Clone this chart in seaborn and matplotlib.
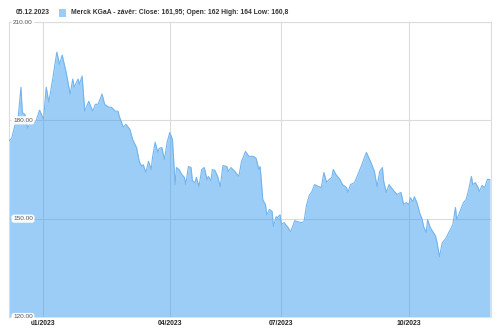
import matplotlib
matplotlib.use("Agg")
import matplotlib.pyplot as plt
import matplotlib.dates as mdates
import matplotlib.transforms as mtransforms
from matplotlib.patches import Rectangle
import seaborn as sns
import pandas as pd

# ---- data ----
dates = [
    "2022-12-08", "2022-12-10", "2022-12-13", "2022-12-15", "2022-12-17", "2022-12-18",
    "2022-12-20", "2022-12-22", "2022-12-24", "2022-12-28", "2022-12-31", "2023-01-03",
    "2023-01-05", "2023-01-07", "2023-01-10", "2023-01-13", "2023-01-15", "2023-01-17",
    "2023-01-20", "2023-01-23", "2023-01-25", "2023-01-26", "2023-01-29", "2023-01-30",
    "2023-02-01", "2023-02-03", "2023-02-06", "2023-02-09", "2023-02-11", "2023-02-13",
    "2023-02-16", "2023-02-18", "2023-02-21", "2023-02-23", "2023-02-26", "2023-02-28",
    "2023-03-01", "2023-03-04", "2023-03-06", "2023-03-09", "2023-03-11", "2023-03-14",
    "2023-03-16", "2023-03-18", "2023-03-19", "2023-03-21", "2023-03-23", "2023-03-25",
    "2023-03-26", "2023-03-28", "2023-03-30", "2023-03-31", "2023-04-02", "2023-04-04",
    "2023-04-06", "2023-04-08", "2023-04-10", "2023-04-12", "2023-04-13", "2023-04-15",
    "2023-04-17", "2023-04-19", "2023-04-20", "2023-04-22", "2023-04-24", "2023-04-25",
    "2023-04-27", "2023-04-28", "2023-04-30", "2023-05-02", "2023-05-04", "2023-05-06",
    "2023-05-07", "2023-05-09", "2023-05-10", "2023-05-12", "2023-05-14", "2023-05-16",
    "2023-05-18", "2023-05-21", "2023-05-22", "2023-05-24", "2023-05-27", "2023-05-30",
    "2023-06-01", "2023-06-04", "2023-06-06", "2023-06-07", "2023-06-10", "2023-06-12",
    "2023-06-14", "2023-06-15", "2023-06-17", "2023-06-19", "2023-06-20", "2023-06-22",
    "2023-06-24", "2023-06-25", "2023-06-27", "2023-06-28", "2023-06-30", "2023-07-01",
    "2023-07-03", "2023-07-06", "2023-07-08", "2023-07-10", "2023-07-11", "2023-07-13",
    "2023-07-16", "2023-07-18", "2023-07-20", "2023-07-22", "2023-07-24", "2023-07-26",
    "2023-07-29", "2023-07-31", "2023-08-02", "2023-08-04", "2023-08-06", "2023-08-08",
    "2023-08-09", "2023-08-11", "2023-08-14", "2023-08-16", "2023-08-19", "2023-08-20",
    "2023-08-22", "2023-08-25", "2023-08-27", "2023-08-30", "2023-09-01", "2023-09-03",
    "2023-09-05", "2023-09-07", "2023-09-09", "2023-09-11", "2023-09-13", "2023-09-15",
    "2023-09-16", "2023-09-18", "2023-09-20", "2023-09-21", "2023-09-24", "2023-09-26",
    "2023-09-29", "2023-10-01", "2023-10-03", "2023-10-05", "2023-10-06", "2023-10-08",
    "2023-10-09", "2023-10-11", "2023-10-13", "2023-10-15", "2023-10-16", "2023-10-18",
    "2023-10-19", "2023-10-21", "2023-10-23", "2023-10-25", "2023-10-26", "2023-10-28",
    "2023-10-30", "2023-11-02", "2023-11-04", "2023-11-06", "2023-11-07", "2023-11-09",
    "2023-11-10", "2023-11-12", "2023-11-15", "2023-11-17", "2023-11-19", "2023-11-21",
    "2023-11-22", "2023-11-24", "2023-11-26", "2023-11-27", "2023-11-29", "2023-12-01",
    "2023-12-03", "2023-12-05",
]
close = [
    173.8, 174.5, 179.4, 181.2, 190.1, 182.4,
    181.8, 177.6, 179.4, 179.4, 183.1, 180.3,
    190.1, 185.5, 192.9, 200.8, 197.1, 199.9,
    194.7, 188.0, 192.6, 190.1, 192.6, 191.0,
    193.5, 182.8, 185.8, 182.8, 184.9, 184.9,
    188.0, 184.9, 184.0, 184.0, 182.8, 182.8,
    181.2, 177.9, 178.8, 177.2, 174.2, 171.7,
    167.5, 165.9, 166.5, 164.1, 167.5, 165.0,
    168.7, 173.3, 170.2, 171.4, 171.7, 168.1,
    173.3, 176.3, 174.2, 160.4, 165.6, 165.0,
    163.5, 162.6, 160.4, 165.9, 165.6, 161.6,
    161.0, 162.6, 159.8, 165.0, 165.6, 161.9,
    162.9, 161.6, 165.0, 164.7, 162.9, 159.8,
    166.2, 165.9, 164.4, 165.6, 164.4, 162.9,
    167.5, 170.5, 169.3, 169.0, 169.0, 168.4,
    165.0, 165.9, 155.8, 154.3, 151.2, 152.8,
    152.2, 147.6, 150.6, 150.3, 151.2, 148.2,
    148.8, 147.3, 146.0, 148.2, 149.4, 149.1,
    148.8, 149.1, 154.3, 157.1, 158.3, 160.4,
    159.8, 159.5, 164.1, 161.0, 162.0, 162.6,
    165.0, 163.5, 162.0, 160.4, 159.5, 158.0,
    160.4, 161.0, 162.9, 165.9, 168.1, 170.2,
    168.4, 166.5, 164.4, 159.8, 164.4, 165.6,
    161.3, 158.0, 160.4, 159.8, 158.3, 157.4,
    158.0, 154.3, 154.9, 154.3, 156.4, 155.2,
    156.7, 154.9, 151.8, 149.7, 147.6, 145.8,
    149.7, 147.3, 146.0, 144.7, 143.0, 138.4,
    142.6, 144.1, 145.8, 147.3, 148.2, 153.4,
    149.7, 151.8, 154.9, 155.8, 158.9, 162.9,
    160.4, 161.0, 159.5, 158.3, 160.1, 159.5,
    162.0, 161.95,
]
y_ticks = [120, 150, 180, 210]
x_tick_dates = ["2023-01-02 12:00", "2023-04-08 00:00", "2023-07-01 00:00", "2023-10-05 00:00"]
header_date = "05.12.2023"
series_label = "Merck KGaA - závěr: Close: 161,95; Open: 162 High: 164 Low: 160,8"

df = pd.DataFrame({"date": pd.to_datetime(dates), "close": close})

# ---- style ----
sns.set_style("white")
plt.rcParams["font.family"] = ["Liberation Sans", "DejaVu Sans"]

fig = plt.figure(figsize=(5.0, 3.33), dpi=100)
ax = fig.add_axes([9 / 500, 1 - 317 / 333, 482 / 500, 295 / 333])

grid_c = "#dcdcdc"
fill_c = "#3a9cf0"
line_c = "#74b4ec"

ax.fill_between(df["date"], df["close"], 120, color=fill_c, alpha=0.5,
                linewidth=0, zorder=2)
sns.lineplot(data=df, x="date", y="close", ax=ax, color=line_c,
             linewidth=0.8, zorder=3)

ax.set_ylim(120, 210)
ax.set_xlim(pd.Timestamp("2022-12-08"), pd.Timestamp("2023-12-05 18:00"))

# grid
ax.set_yticks(y_ticks)
ax.set_xticks(pd.to_datetime(x_tick_dates, format="%Y-%m-%d %H:%M"))
ax.xaxis.set_major_formatter(mdates.DateFormatter("%m/%Y"))
ax.grid(True, color=grid_c, linewidth=0.8, zorder=0)
ax.set_axisbelow(True)
ax.tick_params(axis="both", length=0)
ax.tick_params(axis="x", pad=2.5, labelsize=4.9, labelcolor="#222222")
for lab in ax.get_xticklabels():
    lab.set_fontweight("bold")
ax.set_yticklabels([])
ax.set_xlabel("")
ax.set_ylabel("")

for side in ["left", "right", "top", "bottom"]:
    ax.spines[side].set_color(grid_c)
    ax.spines[side].set_linewidth(0.8)
ax.spines["bottom"].set_visible(False)

# y labels inside plot with white rounded boxes
trans = mtransforms.blended_transform_factory(ax.transAxes, ax.transData)
for v in y_ticks:
    ax.text(0.029, v, f"{v:.2f}", transform=trans, ha="center", va="center",
            fontsize=4.6, color="#555555", zorder=5,
            bbox=dict(boxstyle="round,pad=0.25,rounding_size=0.4",
                      fc="white", ec="none", alpha=0.95))

# header
fig.text(16 / 500, 1 - 12 / 333, header_date, ha="left", va="center",
         fontsize=4.9, fontweight="bold", color="#333333")
fig.patches.append(Rectangle((59 / 500, 1 - 17 / 333), 7 / 500, 8 / 333,
                             transform=fig.transFigure, facecolor="#99cdf7",
                             edgecolor="none"))
fig.text(71 / 500, 1 - 12 / 333, series_label, ha="left", va="center",
         fontsize=4.9, fontweight="bold", color="#333333")

fig.savefig("out.png", dpi=100)
